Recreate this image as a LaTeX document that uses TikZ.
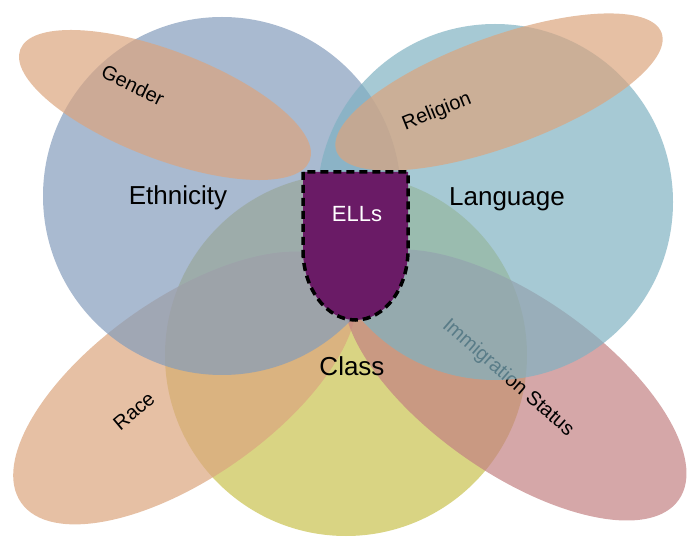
\documentclass[tikz,border=0pt]{standalone}
\usepackage{fontspec}
\setmainfont{Liberation Sans}
\definecolor{ethnicity}{RGB}{132,156,188}
\definecolor{language}{RGB}{128,178,194}
\definecolor{class}{RGB}{201,194,78}
\definecolor{peach}{RGB}{219,165,126}
\definecolor{rose}{RGB}{195,129,131}
\definecolor{ells}{RGB}{106,27,102}

\begin{document}
\begin{tikzpicture}[x=1pt, y=1pt,
	set/.style={fill opacity=0.7},
	big/.style={font=\fontsize{26}{30}\selectfont},
	small/.style={font=\fontsize{20}{24}\selectfont}]

	\useasboundingbox (0,0) rectangle (691,536);

	% Kreis unten
	\fill[class, set] (346,181) circle (181);

	% Ellipsen unten
	\fill[peach, set] (185,148) ellipse [x radius=200, y radius=90, rotate=35];
	\node[small, rotate=40] (race) at (134,125) {Race};

	\fill[rose, set] (515,151) ellipse [x radius=200, y radius=88, rotate=-35];
	\node[small, rotate=-41] (immig) at (508,158) {Immigration Status};

	% Kreise oben
	\fill[ethnicity, set] (222,340) circle (179);
	\fill[language, set] (495,334) circle (178);

	% Ellipsen oben
	\fill[peach, set] (165,431) ellipse [x radius=155, y radius=54, rotate=-21];
	\node[small, rotate=-26] (gender) at (133,451) {Gender};

	\fill[peach, set] (499,444) ellipse [x radius=173, y radius=55, rotate=20];
	\node[small, rotate=22] (religion) at (437,424) {Religion};

	% ELLs
	\draw[fill=ells, line width=3.5pt, dash pattern=on 8pt off 5pt, draw=black]
		(303,364) -- (303,286) arc [start angle=180, end angle=360, x radius=52.5, y radius=70]
		-- (408,364) -- cycle;
	\node[white, font=\fontsize{22}{26}\selectfont] (ell) at (357,322) {ELLs};

	% Beschriftung
	\node[big] (eth) at (178,338) {Ethnicity};
	\node[big] (lang) at (507,337) {Language};
	\node[big] (cls) at (352,170) {Class};

\end{tikzpicture}
\end{document}
